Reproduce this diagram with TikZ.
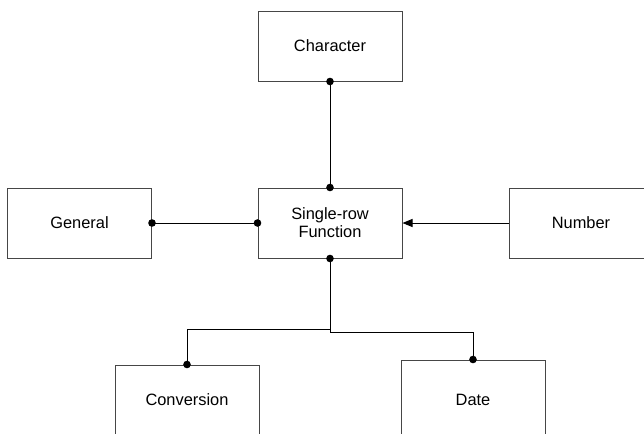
\documentclass[tikz,border=0pt]{standalone}
\usepackage{fontspec}
\setmainfont{Liberation Sans}
\usetikzlibrary{arrows.meta}

\tikzset{every picture/.style={line width=0.75pt}}
\tikzset{
  fnbox/.style={draw={rgb, 255:red, 70; green, 70; blue, 70 }, minimum width=108pt, minimum height=52.5pt, inner sep=0.75pt, align=center, font=\fontsize{12.3}{13.4}\selectfont},
  joint/.style={fill=black},
}

\begin{document}
\begin{tikzpicture}[x=0.75pt,y=0.75pt,yscale=-1,xscale=1]
\useasboundingbox (0,0) rectangle (644,433);
\clip (0,0) rectangle (644,433);

% Boxes
\node [fnbox] (character) at (330,46) {Character};
\node [fnbox] (general) at (79.5,223) {General};
\node [fnbox] (single) at (330,223) {Single-row\\Function};
\node [fnbox] (number) at (581,223) {Number};
\node [fnbox] (conversion) at (187,400) {Conversion};
\node [fnbox, minimum height=60pt] (date) at (473,400) {Date};

% Links
\draw (character.south) -- (single.north);
\draw (general.east) -- (single.west);
\draw [-{Triangle[length=7.5pt,width=6pt]}] (number.west) -- (single.east);
\draw (single.south) -- ++(0,71) -| (conversion.north);
\draw (single.south) -- ++(0,74) -| (date.north);

% Dots
\fill [joint] (character.south) circle (3.8);
\fill [joint] (single.north) circle (3.8);
\fill [joint] (general.east) circle (3.8);
\fill [joint] (single.west) circle (3.8);
\fill [joint] (single.south) circle (3.8);
\fill [joint] (conversion.north) circle (3.8);
\fill [joint] (date.north) circle (3.8);

\end{tikzpicture}
\end{document}
